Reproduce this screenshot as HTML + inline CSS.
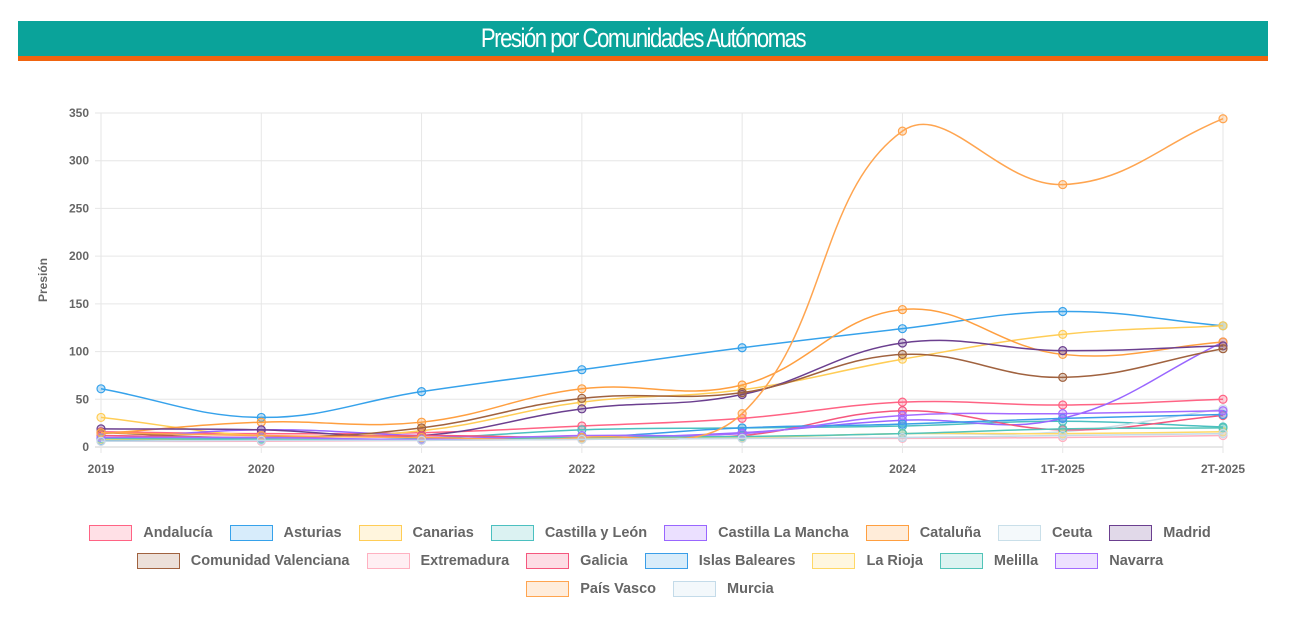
<!DOCTYPE html>
<html><head><meta charset="utf-8"><style>
body{margin:0;width:1300px;height:640px;background:#fff;font-family:"Liberation Sans",sans-serif;overflow:hidden;position:relative}
#hdr{position:absolute;left:18px;top:21px;width:1250px;height:35px;background:#0aa39a;border-bottom:5px solid #f0640f}
#hdr span{display:block;color:#fff;text-align:center;font:27px/35px "Liberation Sans Narrow","Liberation Sans",sans-serif;letter-spacing:-1.8px;transform:scaleX(0.82)}
#legend{position:absolute;left:0;top:519px;width:1300px}
.row{display:flex;justify-content:center;height:28px;align-items:center}
.li{display:flex;align-items:center;margin:0 8.5px;font-size:14.5px;font-weight:bold;color:#666}
.bx{width:43px;height:16px;border:1.5px solid;margin-right:11px;box-sizing:border-box}
</style></head><body>
<div id="hdr"><span>Presión por Comunidades Autónomas</span></div>
<svg id="chart" width="1300" height="520" style="position:absolute;left:0;top:0"></svg>
<div id="legend"></div>
<script>
const categories=["2019","2020","2021","2022","2023","2024","1T-2025","2T-2025"];
const yTicks=[0,50,100,150,200,250,300,350];
const seriesNames=["Andalucía","Asturias","Canarias","Castilla y León","Castilla La Mancha","Cataluña","Ceuta","Madrid","Comunidad Valenciana","Extremadura","Galicia","Islas Baleares","La Rioja","Melilla","Navarra","País Vasco","Murcia"];
const seriesColors=["#ff6384","#36a2eb","#ffcd56","#4bc0c0","#9966ff","#ff9f40","#c9dfe9","#6b3f8f","#a0623f","#ffb1c1","#f5577e","#3a9ee8","#ffd866","#52c4b8","#a46bff","#ffa550","#c4dbe9"];
const vAndalucia=[16,14,15,22,30,47,44,50];
const vAsturias=[61,31,58,81,104,124,142,127];
const vCanarias=[31,12,17,47,60,92,118,127];
const vCyL=[9,8,9,18,20,22,27,21];
const vCLM=[8,18,12,10,15,28,30,110];
const vCataluna=[14,26,26,61,65,144,97,110];
const vCeuta=[7,8,8,9,10,14,16,40];
const vMadrid=[19,18,12,40,55,109,101,106];
const vValenciana=[15,10,20,51,57,97,73,103];
const vExtremadura=[6,6,7,8,9,9,10,12];
const vGalicia=[12,10,12,10,12,38,18,33];
const vBaleares=[7,9,8,10,20,24,30,34];
const vRioja=[8,8,8,9,10,14,14,16];
const vMelilla=[9,8,8,10,11,14,19,20];
const vNavarra=[10,10,8,12,14,33,35,38];
const vPaisVasco=[15,12,10,10,35,331,275,344];
const vMurcia=[6,7,7,8,9,10,12,14];
const allValues=[vAndalucia,vAsturias,vCanarias,vCyL,vCLM,vCataluna,vCeuta,vMadrid,vValenciana,vExtremadura,vGalicia,vBaleares,vRioja,vMelilla,vNavarra,vPaisVasco,vMurcia];

const NS="http://www.w3.org/2000/svg";
const svg=document.getElementById('chart');
const X0=101,X1=1223,Y0=447,Y1=113,YMAX=350;
const xs=i=>X0+(X1-X0)*i/(categories.length-1);
const ys=v=>Y0-(Y0-Y1)*v/YMAX;
function mk(t,a){const e=document.createElementNS(NS,t);for(const k in a)e.setAttribute(k,a[k]);svg.appendChild(e);return e;}
yTicks.forEach(t=>{
  const l=mk('line',{x1:X0-6,x2:X1,y1:ys(t),y2:ys(t),stroke:t===0?'#cfcfcf':'#e6e6e6','stroke-width':1});
  
  
  const tx=mk('text',{x:X0-12,y:ys(t)+4,'text-anchor':'end','font-size':12,'font-weight':'bold',fill:'#666'});
  tx.textContent=t;
  
  
});
categories.forEach((c,i)=>{
  const l=mk('line',{x1:xs(i),x2:xs(i),y1:Y1,y2:Y0+6,stroke:'#e6e6e6','stroke-width':1});
  
  
  const tx=mk('text',{x:xs(i),y:Y0+26,'text-anchor':'middle','font-size':12,'font-weight':'bold',fill:'#666'});
  tx.textContent=c;
  
  
});
const yt=mk('text',{x:0,y:0,transform:'translate(47,280) rotate(-90)','text-anchor':'middle','font-size':12,'font-weight':'bold',fill:'#666'});
yt.textContent='Presión';



function spline(pts,t){
  let d=`M${pts[0][0]},${pts[0][1]}`;
  const cps=pts.map((p,i)=>{
    const pr=pts[Math.max(i-1,0)],nx=pts[Math.min(i+1,pts.length-1)];
    const d01=Math.hypot(p[0]-pr[0],p[1]-pr[1]),d12=Math.hypot(nx[0]-p[0],nx[1]-p[1]);
    let fa=d01/(d01+d12)||0,fb=d12/(d01+d12)||0;fa*=t;fb*=t;
    return{p:[p[0]-fa*(nx[0]-pr[0]),p[1]-fa*(nx[1]-pr[1])],n:[p[0]+fb*(nx[0]-pr[0]),p[1]+fb*(nx[1]-pr[1])]};
  });
  for(let i=1;i<pts.length;i++){d+=`C${cps[i-1].n[0]},${cps[i-1].n[1]} ${cps[i].p[0]},${cps[i].p[1]} ${pts[i][0]},${pts[i][1]}`;}
  return d;
}
allValues.forEach((vals,s)=>{
  const col=seriesColors[s];
  const g=mk('g',{});
  
  
  const pts=vals.map((v,i)=>[xs(i),ys(v)]);
  const p=document.createElementNS(NS,'path');
  p.setAttribute('d',spline(pts,0.4));p.setAttribute('fill','none');p.setAttribute('stroke',col);p.setAttribute('stroke-width',1.5);
  
  
  g.appendChild(p);
  pts.forEach(pt=>{
    const c=document.createElementNS(NS,'circle');
    c.setAttribute('cx',pt[0]);c.setAttribute('cy',pt[1]);c.setAttribute('r',4);
    c.setAttribute('fill',col);c.setAttribute('fill-opacity',0.3);c.setAttribute('stroke',col);c.setAttribute('stroke-width',1.2);
    
    
    g.appendChild(c);
  });
});
const lg=document.getElementById('legend');
const rowSizes=[8,7,2];
let idx=0;
rowSizes.forEach(n=>{
  const r=document.createElement('div');r.className='row';
  
  
  for(let k=0;k<n;k++,idx++){
    const s=idx;
    const it=document.createElement('div');it.className='li';
    
    
    const b=document.createElement('span');b.className='bx';
    b.style.borderColor=seriesColors[s];b.style.background=seriesColors[s]+'33';
    it.appendChild(b);it.appendChild(document.createTextNode(seriesNames[s]));r.appendChild(it);
  }
  lg.appendChild(r);
});
</script>
</body></html>
